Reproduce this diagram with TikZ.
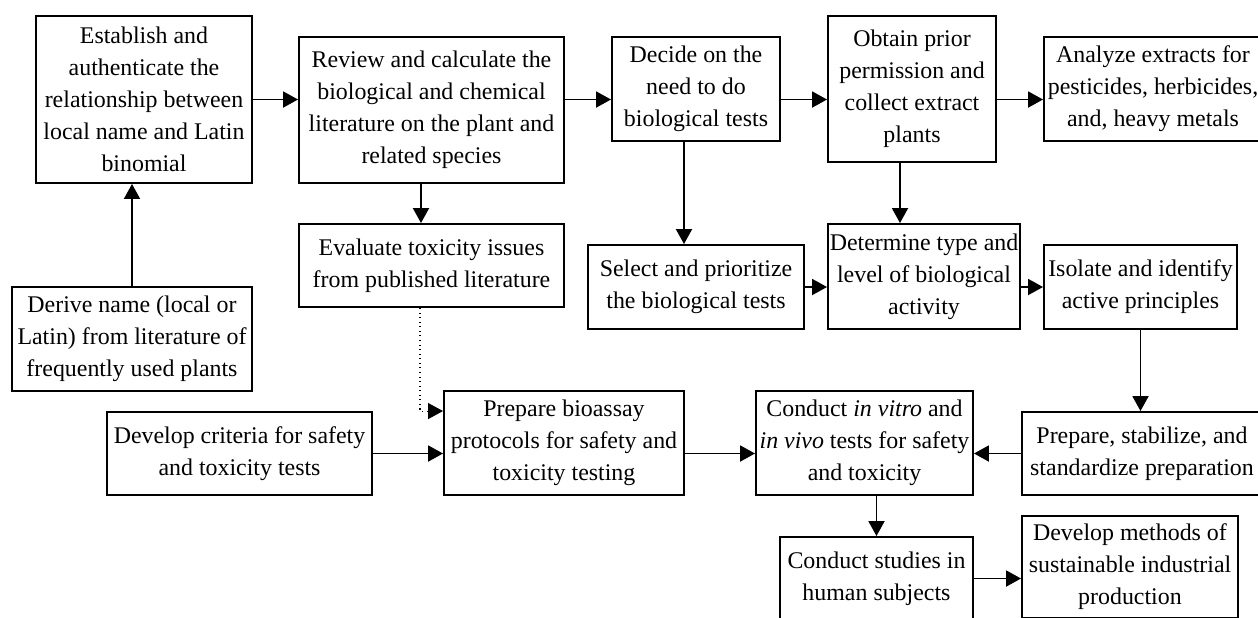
\documentclass[tikz,border=0pt]{standalone}
\usepackage{fontspec}
\setmainfont{Liberation Serif}
\usetikzlibrary{arrows.meta}

\begin{document}
\begin{tikzpicture}[
        > = {Triangle[length=0.3cm, width=0.32cm]},
        line width = 1.1pt,
        box/.style = {draw, align = center, inner sep = 1pt,
            font = \fontsize{13.6}{18.2}\selectfont}
    ]
    \useasboundingbox (0,0) rectangle (25.16,-12.34);
    % first row
    \node[box, minimum width = 4.32cm, minimum height = 3.34cm] (establish) at (2.88,-1.99)
        {Establish and\\authenticate the\\relationship between\\local name and Latin\\binomial};
    \node[box, minimum width = 5.30cm, minimum height = 2.92cm] (review) at (8.63,-2.20)
        {Review and calculate the\\biological and chemical\\literature on the plant and\\related species};
    \node[box, minimum width = 3.36cm, minimum height = 2.08cm] (decide) at (13.92,-1.78)
        {Decide on the\\need to do\\biological tests};
    \node[box, minimum width = 3.36cm, minimum height = 2.92cm] (obtain) at (18.24,-1.78)
        {Obtain prior\\permission and\\collect extract\\plants};
    \node[box, minimum width = 4.36cm, minimum height = 2.08cm] (analyze) at (23.06,-1.78)
        {Analyze extracts for\\pesticides, herbicides,\\and, heavy metals};
    % second row
    \node[box, minimum width = 5.30cm, minimum height = 1.66cm] (evaluate) at (8.63,-5.31)
        {Evaluate toxicity issues\\from published literature};
    \node[box, minimum width = 4.80cm, minimum height = 2.08cm] (derive) at (2.64,-6.78)
        {Derive name (local or\\Latin) from literature of\\frequently used plants};
    \node[box, minimum width = 4.32cm, minimum height = 1.68cm] (select) at (13.92,-5.74)
        {Select and prioritize\\the biological tests};
    \node[box, minimum width = 3.84cm, minimum height = 2.10cm] (determine) at (18.48,-5.53)
        {Determine type and\\level of biological\\activity};
    \node[box, minimum width = 3.86cm, minimum height = 1.68cm] (isolate) at (22.81,-5.74)
        {Isolate and identify\\active principles};
    % third row
    \node[box, minimum width = 5.30cm, minimum height = 1.66cm] (criteria) at (4.79,-9.07)
        {Develop criteria for safety\\and toxicity tests};
    \node[box, minimum width = 4.80cm, minimum height = 2.08cm] (bioassay) at (11.28,-8.86)
        {Prepare bioassay\\protocols for safety and\\toxicity testing};
    \node[box, minimum width = 4.34cm, minimum height = 2.08cm] (conduct) at (17.29,-8.86)
        {Conduct \textit{in vitro} and\\\textit{in vivo} tests for safety\\and toxicity};
    \node[box, minimum width = 4.80cm, minimum height = 1.66cm] (stabilize) at (22.84,-9.07)
        {Prepare, stabilize, and\\standardize preparation};
    \node[box, minimum width = 3.86cm, minimum height = 1.66cm] (studies) at (17.53,-11.57)
        {Conduct studies in\\human subjects};
    \node[box, minimum width = 4.32cm, minimum height = 2.04cm] (methods) at (22.60,-11.34)
        {Develop methods of\\sustainable industrial\\production};
    % arrows
    \draw[->] (derive.north) -- (derive.north |- establish.south);
    \draw[->] (establish.east) -- (establish.east -| review.west);
    \draw[->] (review.east |- establish) -- (decide.west |- establish);
    \draw[->] (decide.east |- establish) -- (obtain.west |- establish);
    \draw[->] (obtain.east |- establish) -- (analyze.west |- establish);
    \draw[->] ([xshift=-0.21cm]review.south) -- ([xshift=-0.21cm]review.south |- evaluate.north);
    \draw[->] ([xshift=-0.24cm]decide.south) -- ([xshift=-0.24cm]decide.south |- select.north);
    \draw[->] ([xshift=-0.24cm]obtain.south) -- ([xshift=-0.24cm]obtain.south |- determine.north);
    \draw[->] (select.east) -- (select.east -| determine.west);
    \draw[->] (determine.east |- isolate) -- (isolate.west);
    \draw[->] (isolate.south) -- (isolate.south |- stabilize.north);
    \draw[->, dotted, line width = 0.6pt] ([xshift=-0.23cm]evaluate.south) |- (bioassay.west |- criteria.north);
    \draw[->] (criteria.east) -- (criteria.east -| bioassay.west);
    \draw[->] (bioassay.east |- criteria) -- (conduct.west |- criteria);
    \draw[->] (stabilize.west) -- (stabilize.west -| conduct.east);
    \draw[->] (conduct.south -| studies.north) -- (studies.north);
    \draw[->] (studies.east) -- (studies.east -| methods.west);
\end{tikzpicture}
\end{document}
